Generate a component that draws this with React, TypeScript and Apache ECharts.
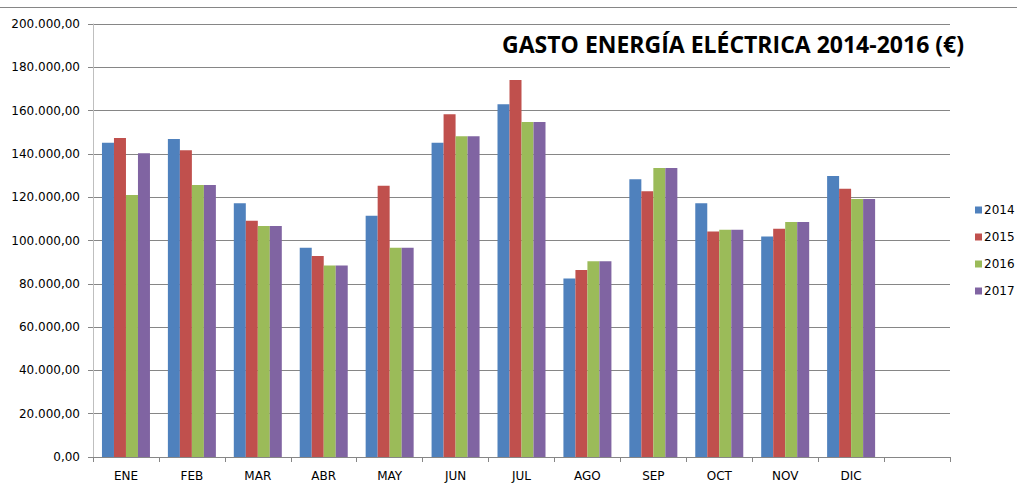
import React, { useEffect, useRef } from "react";
import * as echarts from "echarts";

const months = ["ENE", "FEB", "MAR", "ABR", "MAY", "JUN", "JUL", "AGO", "SEP", "OCT", "NOV", "DIC", ""];
const years = ["2014", "2015", "2016", "2017"];
const v2014 = [145200, 146900, 117200, 96700, 111400, 145100, 162900, 82500, 128300, 117200, 101900, 129800];
const v2015 = [147300, 141700, 109100, 92800, 125300, 158300, 174100, 86400, 122700, 104200, 105400, 123900];
const v2016 = [121000, 125600, 106700, 88400, 96700, 148100, 154700, 90400, 133500, 105000, 108500, 119200];
const v2017 = [140300, 125600, 106700, 88400, 96700, 148100, 154700, 90400, 133500, 105000, 108500, 119200];
const colors = ["#4F81BD", "#C0504D", "#9BBB59", "#8064A2"];
const titleText = "GASTO ENERGÍA ELÉCTRICA 2014-2016 (€)";

function fmt(v: number): string {
  const s = Math.round(v).toString();
  const parts: string[] = [];
  for (let i = s.length; i > 0; i -= 3) parts.unshift(s.substring(Math.max(0, i - 3), i));
  return parts.join(".") + ",00";
}

export default function App() {
  const ref = useRef<HTMLDivElement>(null);
  useEffect(() => {
    if (!ref.current) return;
    const chart = echarts.init(ref.current, null, { renderer: "svg" });
    const all = [v2014, v2015, v2016, v2017];
    chart.setOption({
      animation: false,
      backgroundColor: "#ffffff",
      grid: { left: 93, top: 24, right: 67, bottom: 27, containLabel: false },
      legend: {
        orient: "vertical",
        left: 970,
        top: 199,
        itemWidth: 7,
        itemHeight: 7,
        itemGap: 15,
        icon: "rect",
        textStyle: { fontFamily: "DejaVu Sans", fontSize: 12, color: "#000", padding: [0, 0, 0, -3] },
        data: years,
      },
      xAxis: {
        type: "category",
        data: months,
        axisLine: { lineStyle: { color: "#868686", width: 1 } },
        axisTick: { show: true, length: 5, lineStyle: { color: "#868686" } },
        axisLabel: { fontFamily: "DejaVu Sans", fontSize: 12, color: "#000", margin: 13 },
        splitLine: { show: false },
      },
      yAxis: {
        type: "value",
        min: 0,
        max: 200000,
        interval: 20000,
        axisLine: { show: true, lineStyle: { color: "#BFBFBF", width: 1 } },
        axisTick: { show: true, length: 5, lineStyle: { color: "#868686" } },
        axisLabel: { fontFamily: "DejaVu Sans", fontSize: 12, color: "#000", margin: 13, formatter: (v: number) => fmt(v) },
        splitLine: { show: true, lineStyle: { color: "#868686", width: 1 } },
      },
      series: years.map((y, i) => ({
        name: y,
        type: "bar",
        data: all[i],
        barWidth: 12,
        barGap: "0%",
        itemStyle: { color: colors[i] },
      })),
      graphic: [
        {
          type: "line",
          shape: { x1: 0, y1: 7.5, x2: 1017, y2: 7.5 },
          style: { stroke: "#868686", lineWidth: 1 },
        },
        {
          type: "text",
          x: 964,
          y: 44,
          style: {
            text: titleText,
            align: "right",
            verticalAlign: "middle",
            font: "bold 23px 'Open Sans'",
            fill: "#000",
          },
        },
      ],
    });
    return () => chart.dispose();
  }, []);
  return <div ref={ref} style={{ position: "fixed", left: 0, top: 0, width: 1017, height: 484 }} />;
}
